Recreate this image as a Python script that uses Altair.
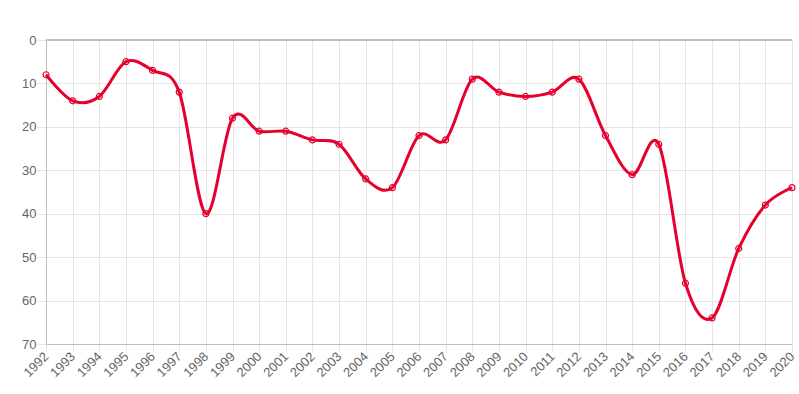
import altair as alt
import pandas as pd

years = [str(y) for y in range(1992, 2021)]
values = [8, 14, 13, 5, 7, 12, 40, 18, 21, 21, 23, 24, 32, 34, 22, 23, 9, 12, 13, 12, 9, 22, 31, 24, 56, 64, 48, 38, 34]

df = pd.DataFrame({"year": years, "value": values})

RED = "#e6002e"
GRID = "#e6e6e6"
AXIS = "#bdbdbd"

x = alt.X("year:O", scale=alt.Scale(type="point", padding=0),
          axis=alt.Axis(title=None, labelAngle=-45, labelAlign="right", labelBaseline="middle",
                        labelFontSize=13, labelColor="#666", labelFont="Liberation Sans",
                        labelPadding=2, tickSize=8, tickColor=GRID, domainColor=AXIS,
                        gridColor=GRID, grid=True, labelOverlap=False))
y = alt.Y("value:Q", scale=alt.Scale(domain=[0, 70], reverse=True, nice=False),
          axis=alt.Axis(title=None, values=[0, 10, 20, 30, 40, 50, 60, 70], labelFontSize=13,
                        labelColor="#666", labelFont="Liberation Sans", labelPadding=1,
                        tickSize=9, tickColor=GRID, domainColor=AXIS, gridColor=GRID))

base = alt.Chart(df)
line = base.mark_line(color=RED, strokeWidth=3, interpolate="cardinal").encode(x=x, y=y)
pts = base.mark_point(shape="circle", size=36, color=RED, filled=False, strokeWidth=1.2,
                      opacity=1).encode(x=x, y=y)
top = alt.Chart(df).mark_rule(color=AXIS, strokeWidth=1).encode(y=alt.datum(0))

chart = alt.layer(line, pts, top).properties(
    width=746, height=304,
    autosize=alt.AutoSizeParams(type="none"),
    padding={"left": 46, "top": 40, "right": 7, "bottom": 50},
).configure_view(stroke=None)

chart.save("out.html", embed_options={"renderer": "svg", "actions": False})
